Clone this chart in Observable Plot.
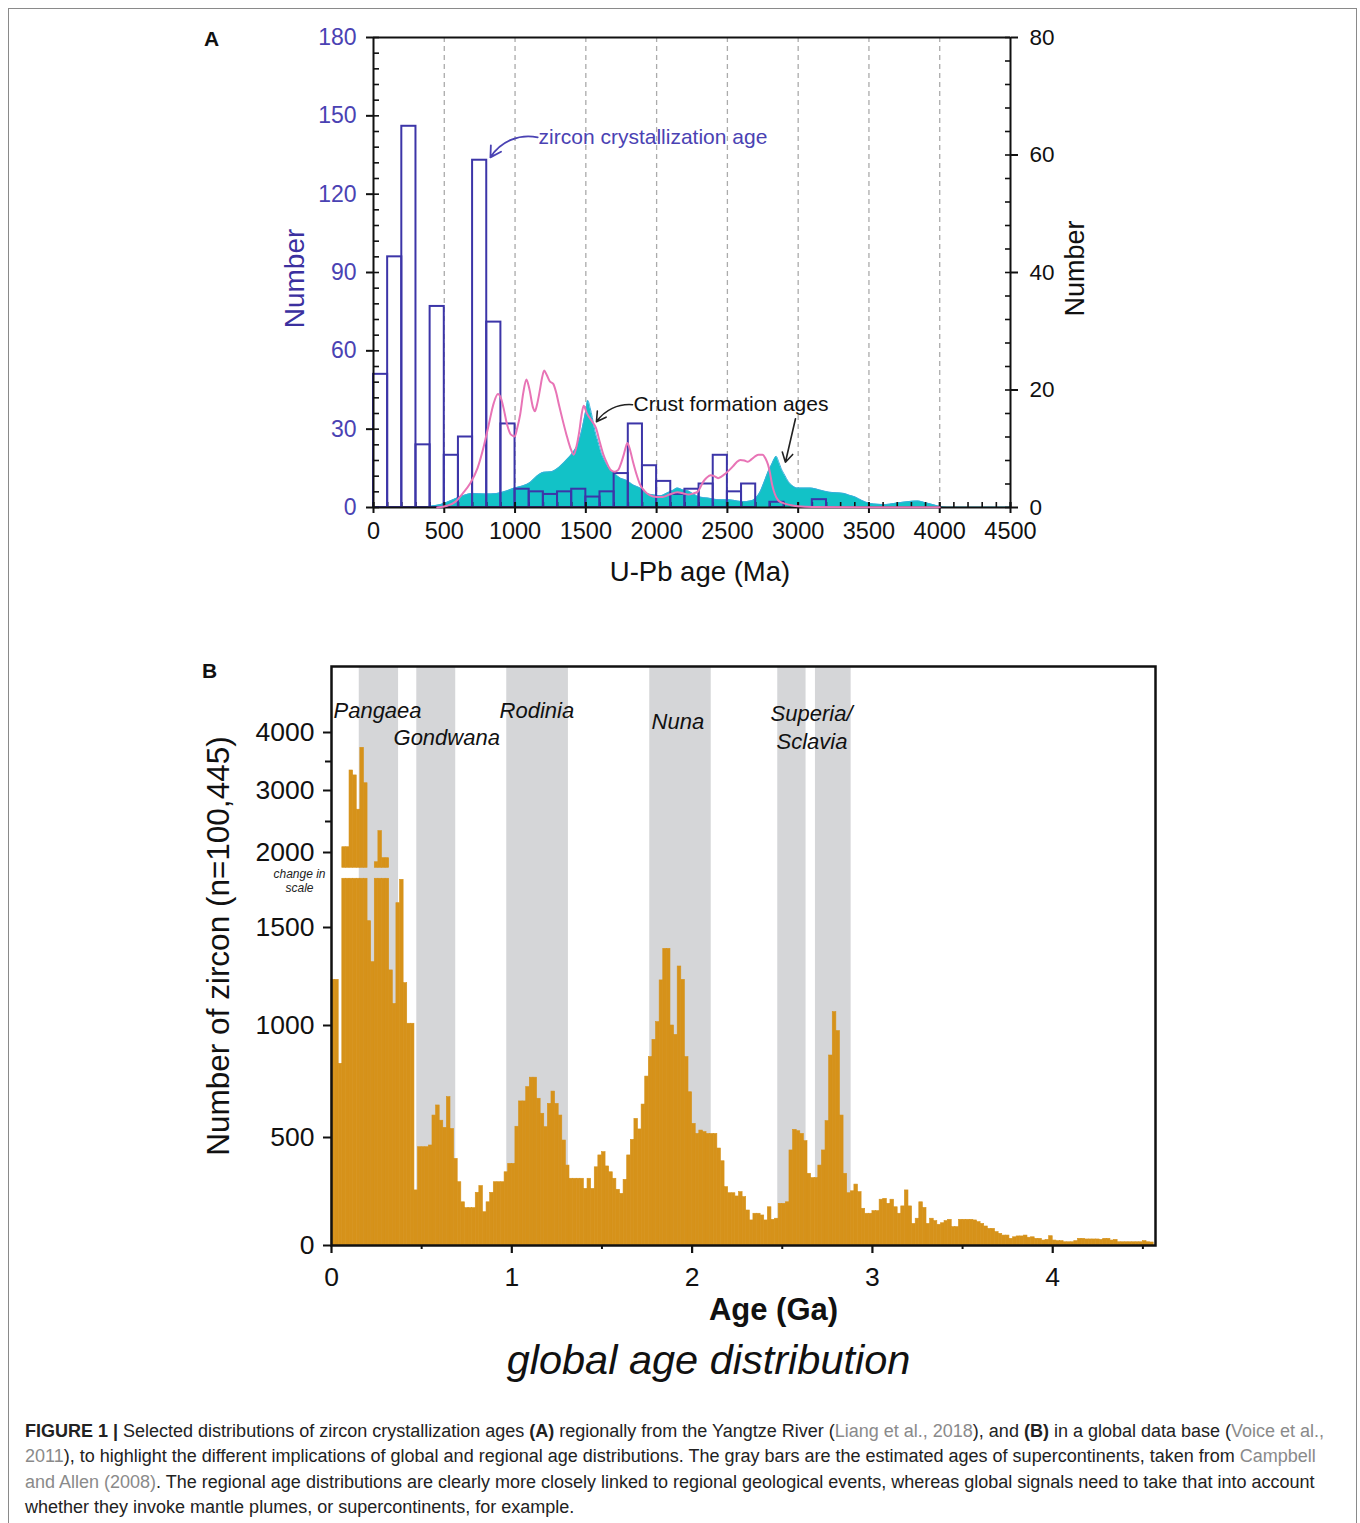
<!DOCTYPE html>
<html><head><meta charset="utf-8">
<script src="https://cdn.jsdelivr.net/npm/d3@7"></script>
<script src="https://cdn.jsdelivr.net/npm/@observablehq/plot@0.6"></script>
<style>
body{margin:0;background:#fff;font-family:"Liberation Sans",Arial,sans-serif;}
#page{position:relative;width:1360px;height:1523px;overflow:hidden;background:#fff;}
#border{position:absolute;left:8px;top:8px;width:1347px;height:1560px;border:1px solid #8a8a8a;}
.layer{position:absolute;left:0;}
.plab{position:absolute;font-weight:bold;font-size:21px;color:#111;}
#caption{position:absolute;left:25px;top:1419px;font-size:18px;line-height:25.3px;color:#222;white-space:nowrap;}
#caption .ref{color:#8a8a8a}
</style></head><body>
<div id="page">
  <div id="border"></div>
  <div class="plab" style="left:204px;top:27px">A</div>
  <div class="plab" style="left:202px;top:659px">B</div>
  <div class="layer" id="a1" style="top:0"></div>
  <div class="layer" id="a2" style="top:0"></div>
  <div class="layer" id="a3" style="top:0"></div>
  <div class="layer" id="b" style="top:600px"></div>
  <div id="caption"><b>FIGURE 1 |</b> Selected distributions of zircon crystallization ages <b>(A)</b> regionally from the Yangtze River (<span class="ref">Liang et al., 2018</span>), and <b>(B)</b> in a global data base (<span class="ref">Voice et al.,</span><br><span class="ref">2011</span>), to highlight the different implications of global and regional age distributions. The gray bars are the estimated ages of supercontinents, taken from <span class="ref">Campbell</span><br><span class="ref">and Allen (2008)</span>. The regional age distributions are clearly more closely linked to regional geological events, whereas global signals need to take that into account<br>whether they invoke mantle plumes, or supercontinents, for example.</div>
</div>
<script>
// ---------- Panel A data ----------
const binStartA = [0,100,200,300,400,500,600,700,800,900,1000,1100,1200,1300,1400,1500,1600,1700,1800,1900,2000,2100,2200,2300,2400,2500,2600,2700,2800,2900,3000,3100];
const countsA   = [51,96,146,24,77,20,27,133,71,32,7,6,5,6,7,4,6,13,32,16,10,5,7,9,20,6,9,0,2,0,0,3];
const binWidthA = 100;

const crustAge = [300,400,474,550,631,700,788,873,997,1109,1153,1203,1258,1297,1363,1410,1441,1465,1480,1500,1514,1530,1546,1565,1585,1610,1637,1670,1702,1744,1781,1838,1885,1933,1990,2027,2068,2121,2147,2185,2225,2260,2304,2360,2408,2460,2513,2570,2617,2660,2696,2730,2761,2790,2813,2830,2845,2862,2879,2905,2931,2960,2996,3040,3088,3150,3219,3270,3323,3360,3402,3450,3506,3560,3611,3680,3741,3800,3846,3900,3950,4003,4050,4500];
const crustNum = [0,0.2,0.5,1.2,2.0,2.4,2.3,2.4,3.3,4.3,5.3,6.0,6.1,6.6,8.1,9.4,10.7,12.5,14.1,16.5,18.2,17.0,15.3,13.0,11.3,9.2,7.8,6.5,5.8,5.0,4.7,3.8,3.3,2.4,2.1,2.0,2.4,3.0,3.3,3.0,2.8,2.3,1.8,1.6,1.4,1.3,1.3,1.1,1.0,1.1,1.5,2.6,4.4,6.2,7.3,8.2,8.7,7.8,6.7,5.5,4.4,3.7,3.3,3.3,3.3,3.0,2.6,2.5,2.4,2.1,1.8,1.2,0.7,0.55,0.5,0.7,0.9,1.05,1.1,0.8,0.5,0.15,0.05,0.05];

const pinkAge = [450,520,580,631,680,735,780,814,850,879,900,918,945,971,997,1015,1036,1058,1080,1100,1127,1140,1155,1174,1190,1206,1225,1245,1271,1290,1310,1335,1363,1390,1415,1435,1454,1470,1485,1506,1540,1572,1600,1624,1650,1676,1705,1729,1750,1768,1785,1794,1810,1833,1860,1885,1915,1951,2000,2042,2090,2147,2190,2225,2260,2291,2310,2330,2355,2382,2410,2434,2460,2487,2515,2539,2565,2591,2620,2644,2670,2696,2720,2748,2770,2787,2800,2815,2835,2860,2900,2950,3000,3100,3500,4000];
const pinkNum = [0,0.3,1.0,2.4,4.0,6.7,10.5,14.1,17.8,19.3,18.6,17.0,14.0,12.4,12.1,13.5,15.8,19.5,21.8,20.3,17.0,16.4,17.5,19.8,22.0,23.3,22.5,21.5,21.0,19.6,17.5,15.0,12.4,10.2,9.0,10.5,13.0,15.8,17.3,16.1,14.8,13.5,11.0,9.0,7.5,6.4,6.1,6.4,7.6,9.0,10.5,11.0,10.0,7.8,5.5,3.8,2.8,2.1,1.8,1.8,2.2,2.6,2.4,2.2,2.4,2.7,3.5,4.4,5.1,5.5,5.3,5.0,5.3,5.8,6.4,7.0,7.7,8.1,8.0,7.8,8.2,8.7,9.0,9.0,8.3,7.3,6.0,4.0,2.3,1.2,0.7,0.4,0.2,0.1,0.05,0.05];

const xTicksA = [0,500,1000,1500,2000,2500,3000,3500,4000,4500];
const xMinorA = d3.range(0, 4501, 100);
const leftTicksA = [0,30,60,90,120,150,180];
const leftMinorA = d3.range(0, 181, 6);
const rightTicksA = [0,20,40,60,80];
const rightMinorA = d3.range(0, 81, 4);
const gridA = [500,1000,1500,2000,2500,3000,3500,4000];

// ---------- Panel B data ----------
const binWidthB = 0.02; // Ga
const countsB = [
1233,1233,829,2085,2085,3345,3260,2690,3736,3125,
1542,1323,1935,2344,1962,1962,1281,1110,1662,1818,
1216,1009,1009,255,455,455,455,463,598,643,
575,543,680,538,401,293,200,173,173,173,
244,275,154,200,244,293,293,293,339,378,
378,548,661,661,725,767,767,673,606,546,
650,705,650,598,486,370,309,309,309,309,
262,309,262,362,417,432,366,339,309,258,
239,304,417,489,583,536,647,772,859,936,
1017,1230,1391,1391,1000,958,1301,1233,859,702,
561,516,531,524,516,516,516,449,390,270,
242,242,227,247,224,162,116,147,147,139,
116,177,119,124,193,193,200,440,534,528,
516,483,332,312,312,370,440,573,866,1068,
975,598,332,242,251,282,247,170,147,147,
159,159,212,216,193,212,177,147,181,255,
181,100,124,200,174,100,124,113,96,103,
113,119,85,85,119,119,119,119,116,108,
100,88,77,77,62,54,46,46,31,38,
42,42,46,36,38,31,31,23,26,43,
23,20,20,15,15,15,20,31,31,28,
28,28,28,26,31,31,23,26,15,15,
15,15,15,15,15,20,15,14];
const breakLow = 1825, breakHigh = 1898;

const supercontinent = ["Pangaea","Gondwana","Rodinia","Nuna","Superia","Sclavia"];
const scStart = [0.154,0.473,0.972,1.765,2.475,2.684];
const scEnd   = [0.372,0.689,1.314,2.106,2.632,2.882];

const nameLabels = ["Pangaea","Gondwana","Rodinia","Nuna","Superia/","Sclavia"];
const nameX = [0.011,0.344,0.932,1.775,2.435,2.468];
const nameY = [4367,3914,4367,4172,4310,3845];

const yStopsB = [0,500,1000,1500,2000,3000,4000,5100];
const yTicksB = [0,500,1000,1500,2000,3000,4000];
const yMinorB = [2500,3500];
const xTicksB = [0,1,2,3,4];
const xMinorB = [0.5,1.5,2.5,3.5,4.5];

// ---------- build ----------
const FONT = '"Liberation Sans", Arial, Helvetica, sans-serif';
const W = 1360, HA = 620;
const mA = {marginLeft:373, marginRight:350, marginTop:37, marginBottom:113};
const styleT = {background:"transparent", fontFamily:FONT, overflow:"visible"};
const PURPLE = "#4a42b3";
const fmt = d => String(d);

const crust = crustAge.map((a,i)=>({age:a, v:crustNum[i]}));
const pink = pinkAge.map((a,i)=>({age:a, v:pinkNum[i]}));
const histA = countsA.map((n,i)=>({x0:binStartA[i], x1:binStartA[i]+binWidthA, n})).filter(d=>d.n>0);

const a1 = Plot.plot({
  width:W, height:HA, ...mA, style:styleT,
  x:{domain:[0,4500], axis:null},
  y:{domain:[0,80], label:null},
  marks:[
    Plot.ruleX(gridA, {stroke:"#ababab", strokeDasharray:"5,4", strokeWidth:1.3}),
    Plot.areaY(crust, {x:"age", y:"v", fill:"#12c2c7", curve:"monotone-x"}),
    Plot.lineY(crust, {x:"age", y:"v", stroke:"#3aaede", strokeWidth:1, curve:"monotone-x"}),
    Plot.axisY({anchor:"right", ticks:rightTicksA, tickFormat:fmt, tickSize:0, tickPadding:19, fontSize:22.5, fill:"#111", label:null}),
    Plot.axisY({anchor:"right", ticks:rightTicksA, tickSize:7, fill:"none", stroke:"#111", strokeWidth:2, label:null}),
    Plot.axisY({anchor:"right", ticks:rightMinorA, tickSize:-6, fill:"none", stroke:"#111", strokeWidth:1.6, label:null}),
    Plot.text(["Number"], {frameAnchor:"right", textAnchor:"middle", lineAnchor:"middle", rotate:-90, dx:65, dy:-4, fontSize:27, fill:"#111"})
  ]
});
document.getElementById("a1").append(a1);

const a2 = Plot.plot({
  width:W, height:HA, ...mA, style:styleT,
  x:{domain:[0,4500], label:null},
  y:{domain:[0,180], label:null},
  marks:[
    Plot.axisX({ticks:xMinorA, tickSize:-5, fill:"none", stroke:"#111", strokeWidth:1.6, label:null}),
    Plot.rect(histA, {x1:"x0", x2:"x1", y1:0, y2:"n", fill:"none", stroke:"#3c35a8", strokeWidth:2}),
    Plot.ruleX([0, 4500], {stroke:"#111", strokeWidth:2}),
    Plot.ruleY([0, 180], {stroke:"#111", strokeWidth:2}),
    Plot.axisX({ticks:xTicksA, tickFormat:fmt, tickSize:6, tickPadding:9, fontSize:23.5, stroke:"#111", strokeWidth:2, fill:"#111", label:null}),
    Plot.axisX({ticks:xTicksA, tickSize:-5, fill:"none", stroke:"#111", strokeWidth:2, label:null}),
    Plot.axisY({ticks:leftTicksA, tickFormat:fmt, tickSize:0, tickPadding:17, fontSize:23, fill:PURPLE, label:null}),
    Plot.axisY({ticks:leftTicksA, tickSize:7, fill:"none", stroke:"#111", strokeWidth:2, label:null}),
    Plot.axisY({ticks:leftMinorA, tickSize:-6, fill:"none", stroke:"#111", strokeWidth:1.6, label:null}),
    Plot.text(["Number"], {frameAnchor:"left", textAnchor:"middle", lineAnchor:"middle", rotate:-90, dx:-78, dy:6, fontSize:28, fill:"#3b309f"}),
    Plot.text(["U-Pb age (Ma)"], {frameAnchor:"bottom", textAnchor:"middle", lineAnchor:"middle", dx:8, dy:65, fontSize:27.5, fill:"#111"})
  ]
});
document.getElementById("a2").append(a2);

const a3 = Plot.plot({
  width:W, height:HA, ...mA, style:styleT,
  x:{domain:[0,4500], axis:null},
  y:{domain:[0,80], axis:null},
  marks:[
    Plot.line(pink, {x:"age", y:"v", stroke:"#e874b6", strokeWidth:2, curve:"monotone-x"}),
    Plot.text(["zircon crystallization age"], {x:1166, y:63.0, textAnchor:"start", fontSize:21, fill:PURPLE}),
    Plot.arrow([{a:1160,b:63.0,c:826,d:59.6}], {x1:"a", y1:"b", x2:"c", y2:"d", bend:-35, stroke:PURPLE, strokeWidth:1.8, headLength:10}),
    Plot.text(["Crust formation ages"], {x:1837, y:17.5, textAnchor:"start", fontSize:21, fill:"#111"}),
    Plot.arrow([{a:1830,b:17.5,c:1575,d:14.6}], {x1:"a", y1:"b", x2:"c", y2:"d", bend:-30, stroke:"#222", strokeWidth:1.6, headLength:10}),
    Plot.arrow([{a:2981,b:15.1,c:2910,d:7.7}], {x1:"a", y1:"b", x2:"c", y2:"d", stroke:"#222", strokeWidth:1.6, headLength:10})
  ]
});
document.getElementById("a3").append(a3);

// Panel B
const binsB = countsB.map((n,i)=>({x0:i*binWidthB, x1:(i+1)*binWidthB, n}));
const bands = supercontinent.map((s,i)=>({name:s, start:scStart[i], end:scEnd[i]}));
const names = nameLabels.map((s,i)=>({t:s, x:nameX[i], y:nameY[i]}));
const GOLD = "#d6921a";
const HB = 800;
const yRangeB = [645,537,425,327,252,190,132,66];

const b = Plot.plot({
  width:W, height:HB, marginLeft:331, marginRight:205, marginTop:66, marginBottom:155,
  style:styleT,
  x:{domain:[0,4.57], label:null},
  y:{type:"linear", domain:yStopsB, range:yRangeB, label:null},
  marks:[
    Plot.rect(bands, {x1:"start", x2:"end", fill:"#d5d6d8"}),
    Plot.rect(binsB, {x1:"x0", x2:"x1", y1:0, y2:d=>Math.min(d.n, breakLow), fill:GOLD, stroke:GOLD, strokeWidth:0.6}),
    Plot.rect(binsB.filter(d=>d.n>breakHigh), {x1:"x0", x2:"x1", y1:breakHigh, y2:"n", fill:GOLD, stroke:GOLD, strokeWidth:0.6}),
    Plot.frame({stroke:"#111", strokeWidth:2.5}),
    Plot.axisY({ticks:yTicksB, tickFormat:fmt, tickSize:8, tickPadding:9, fontSize:26.5, stroke:"#111", strokeWidth:2, fill:"#111", label:null}),
    Plot.axisY({ticks:yMinorB, tickSize:6, fill:"none", stroke:"#111", strokeWidth:2, label:null}),
    Plot.axisX({ticks:xTicksB, tickFormat:fmt, tickSize:8, tickPadding:14, fontSize:26.5, stroke:"#111", strokeWidth:2.2, fill:"#111", label:null}),
    Plot.axisX({ticks:xMinorB, tickSize:4, fill:"none", stroke:"#111", strokeWidth:2, label:null}),
    Plot.text(names, {x:"x", y:"y", text:"t", textAnchor:"start", fontSize:22, fontStyle:"italic", fill:"#111"}),
    Plot.text(["change in\nscale"], {x:0, y:1813, dx:-32, fontSize:12, fontStyle:"italic", fill:"#222", lineHeight:1.2}),
    Plot.text(["Number of zircon (n=100,445)"], {frameAnchor:"left", textAnchor:"middle", lineAnchor:"middle", rotate:-90, dx:-113, dy:-10, fontSize:31.5, fill:"#111"}),
    Plot.text(["Age (Ga)"], {frameAnchor:"bottom", textAnchor:"middle", lineAnchor:"middle", dx:30, dy:65, fontSize:31, fontWeight:"bold", fill:"#111"}),
    Plot.text(["global age distribution"], {frameAnchor:"bottom", textAnchor:"middle", lineAnchor:"middle", dx:-35, dy:115, fontSize:41.5, fontStyle:"italic", fill:"#111"})
  ]
});
document.getElementById("b").append(b);
</script>
</body></html>
